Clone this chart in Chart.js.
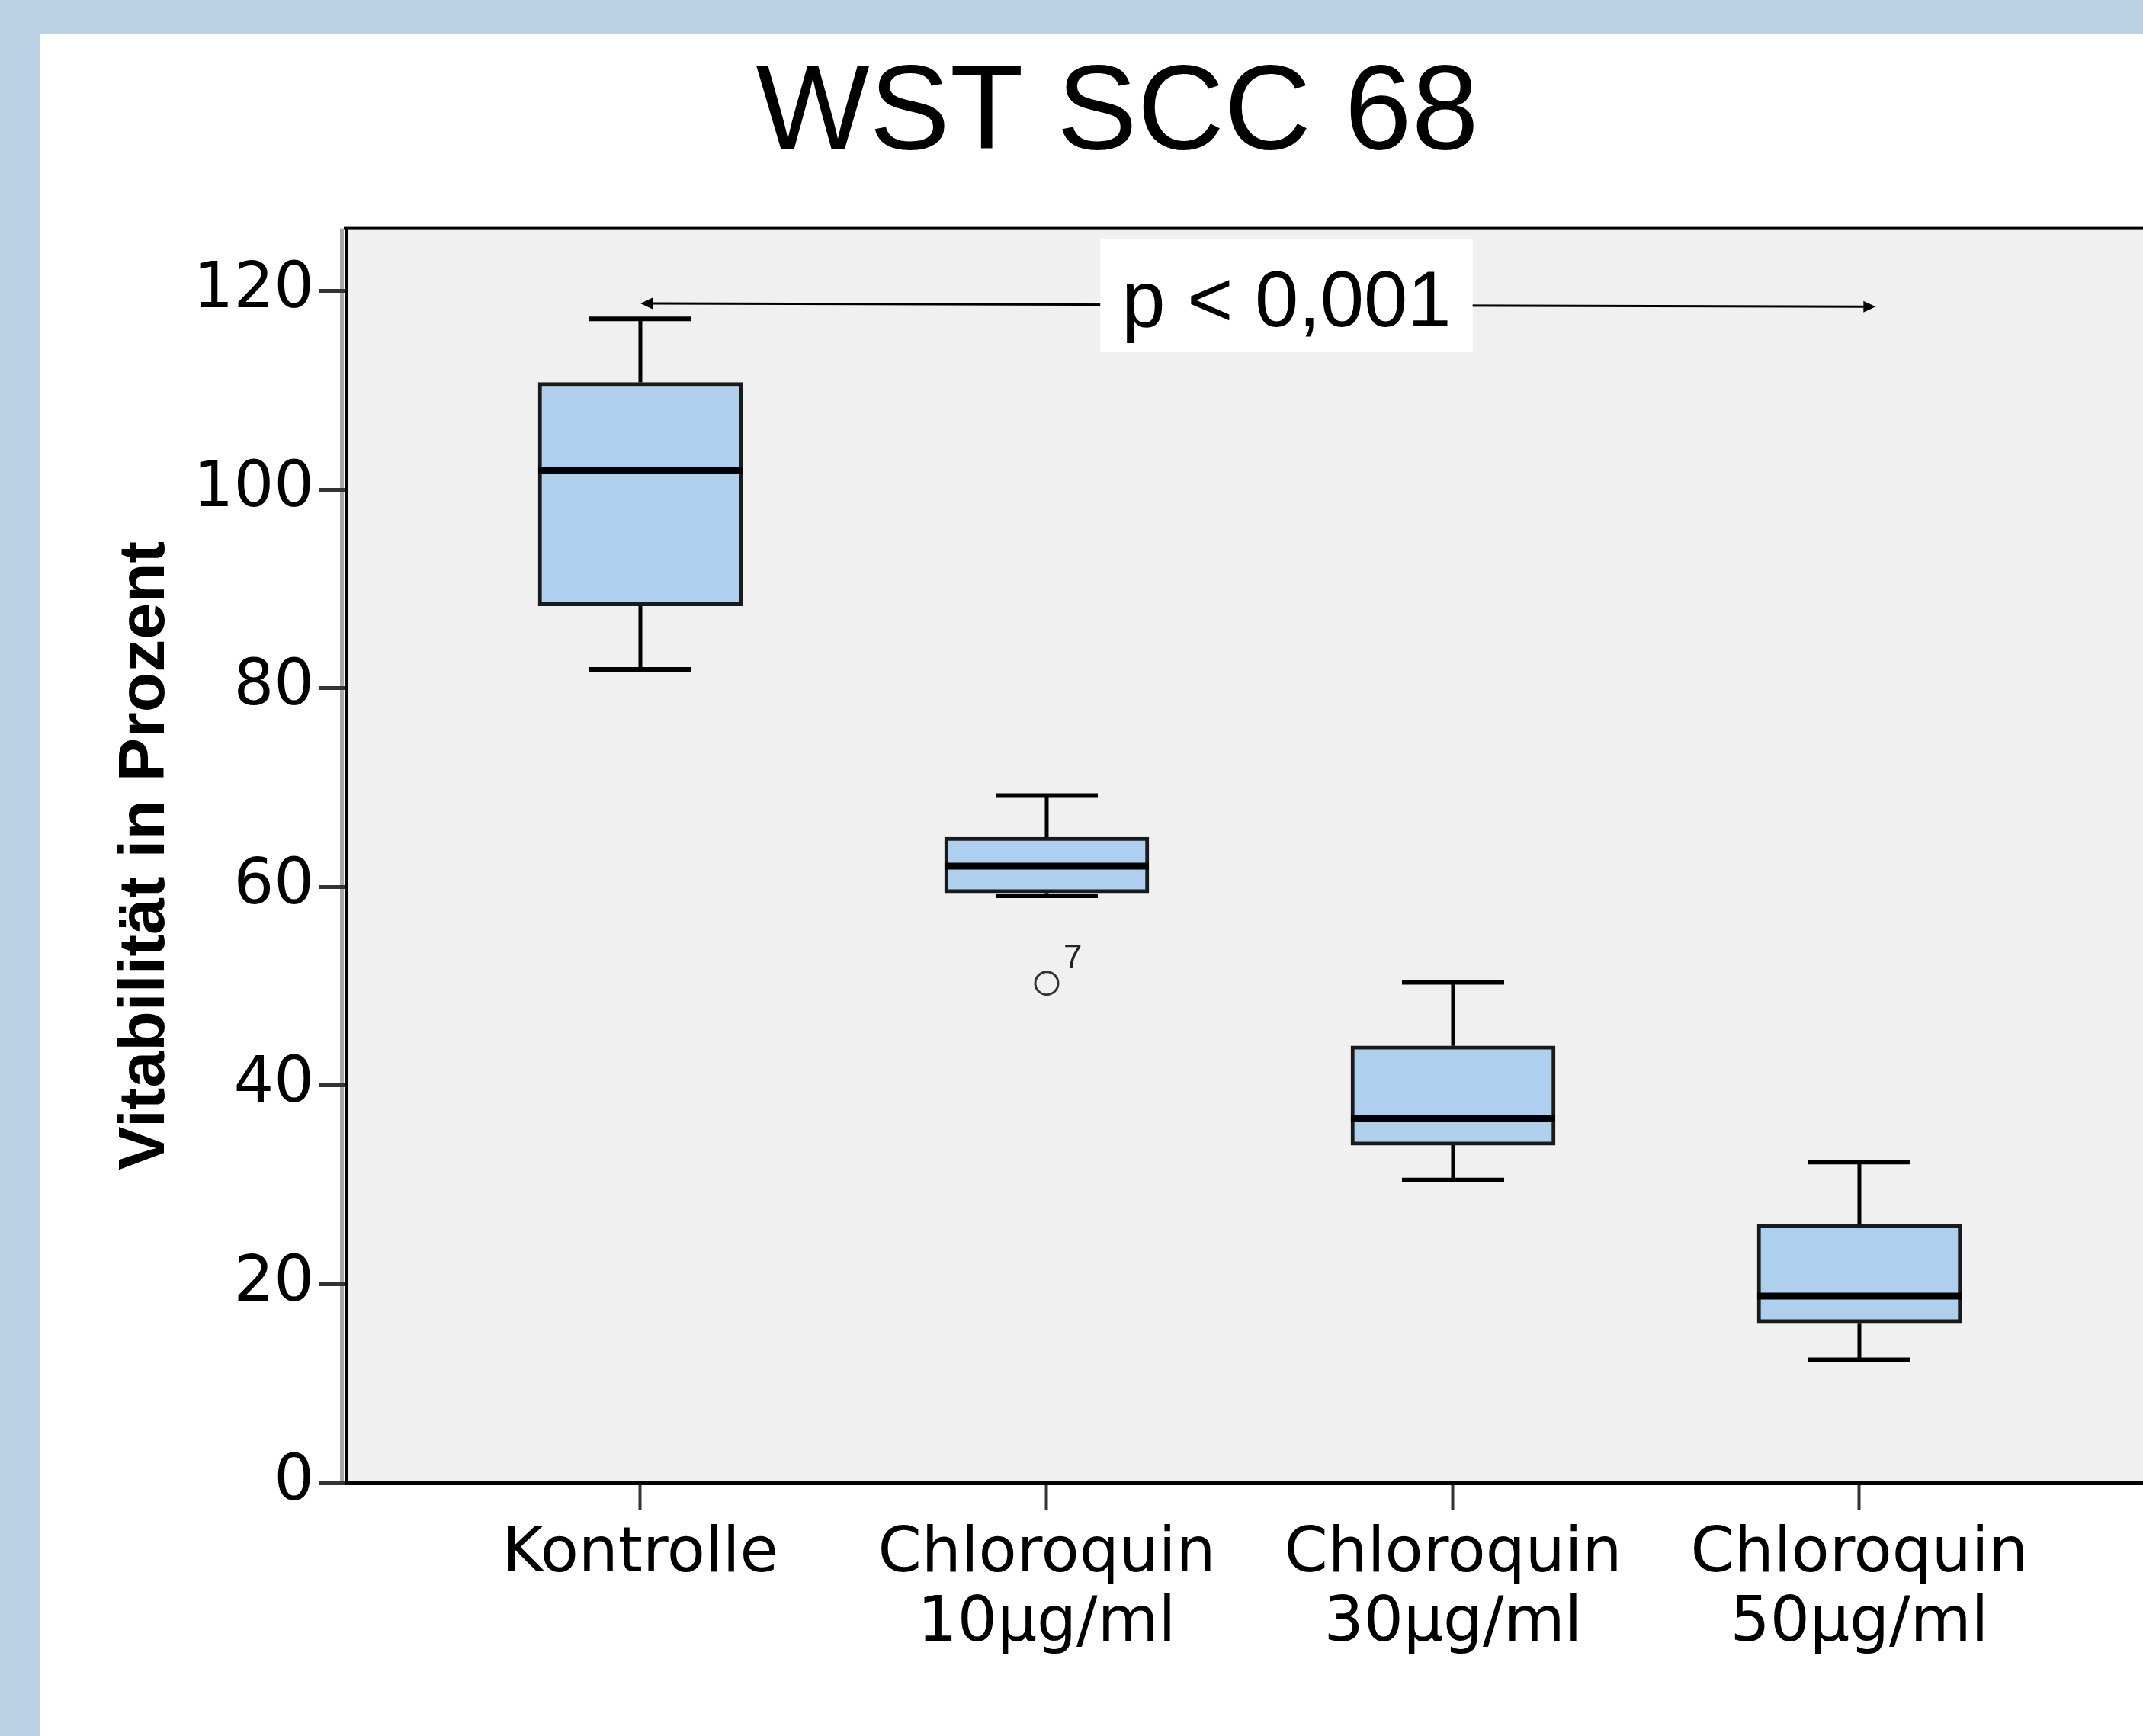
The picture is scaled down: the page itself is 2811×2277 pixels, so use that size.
<!DOCTYPE html>
<html>
<head>
<meta charset="utf-8">
<title>WST SCC 68</title>
<script src="https://cdn.jsdelivr.net/npm/chart.js@4.4.1/dist/chart.umd.min.js"></script>
<style>
    html, body { margin: 0; padding: 0; overflow: hidden; }
    body { width: 2811px; height: 2277px; background: #bbd1e5; position: relative; }
    #panel { position: absolute; left: 52px; top: 44px; right: 0; bottom: 0; background: #ffffff; }
    #myChart { position: absolute; left: 0; top: 0; }
</style>
</head>
<body>
<div id="panel"></div>
<canvas id="myChart" width="2811" height="2277"></canvas>
<script>
// groups on the x axis (positions 1..4)
const groupLabels = ['Kontrolle', ['Chloroquin', '10µg/ml'], ['Chloroquin', '30µg/ml'], ['Chloroquin', '50µg/ml']];
const groupPos = [1, 2, 3, 4];

// box plot statistics, Vitabilität in %
const whiskerLow = [81.9, 59.1, 30.5, 12.4];
const quartile1 = [88.3, 59.4, 34.0, 16.1];
const medians = [101.9, 62.1, 36.7, 18.8];
const quartile3 = [110.8, 65.0, 44.0, 26.0];
const whiskerHigh = [117.2, 69.2, 50.4, 32.3];

// outliers
const outlierPos = [2];
const outlierValues = [50.3];
const outlierLabels = ['7'];

const yTicks = [0, 20, 40, 60, 80, 100, 120];
const pText = 'p < 0,001';

let chart;

Chart.defaults.font.family = "'Liberation Sans', Arial, sans-serif";
Chart.defaults.color = '#000';

const BOX_WIDTH = 268;
const CAP_HALF = 67;

// grey plot area + top frame line
const plotBackground = {
    id: 'plotBackground',
    beforeDraw(c) {
        const {ctx, chartArea: a} = c;
        ctx.save();
        ctx.fillStyle = '#f0f0f0';
        ctx.fillRect(a.left, a.top, a.right - a.left, a.bottom - a.top);
        ctx.fillStyle = '#a8a8a8';
        ctx.fillRect(a.left - 9, a.top, 5, a.bottom - a.top);
        ctx.fillStyle = '#000';
        ctx.fillRect(a.left - 4, a.top - 2, a.right - a.left + 4, 4);
        ctx.restore();
    }
};

// whiskers, caps, medians and outlier labels
const boxWhiskers = {
    id: 'boxWhiskers',
    afterDatasetsDraw(c) {
        const {ctx, scales: {x, y}} = c;
        ctx.save();
        ctx.strokeStyle = '#000';
        groupPos.forEach((pos, i) => {
            const px = x.getPixelForValue(pos);

            ctx.lineWidth = 5;
            ctx.beginPath();
            ctx.moveTo(px, y.getPixelForValue(quartile3[i]));
            ctx.lineTo(px, y.getPixelForValue(whiskerHigh[i]));
            ctx.moveTo(px, y.getPixelForValue(quartile1[i]));
            ctx.lineTo(px, y.getPixelForValue(whiskerLow[i]));
            ctx.stroke();

            ctx.lineWidth = 6;
            ctx.beginPath();
            [whiskerHigh[i], whiskerLow[i]].forEach(v => {
                const py = y.getPixelForValue(v);
                ctx.moveTo(px - CAP_HALF, py);
                ctx.lineTo(px + CAP_HALF, py);
            });
            ctx.stroke();

            ctx.lineWidth = 9;
            ctx.beginPath();
            const my = y.getPixelForValue(medians[i]);
            ctx.moveTo(px - BOX_WIDTH / 2, my);
            ctx.lineTo(px + BOX_WIDTH / 2, my);
            ctx.stroke();
        });

        ctx.fillStyle = '#222';
        ctx.font = "44px 'Liberation Sans', Arial, sans-serif";
        ctx.textAlign = 'left';
        ctx.textBaseline = 'alphabetic';
        outlierPos.forEach((pos, i) => {
            ctx.fillText(outlierLabels[i], x.getPixelForValue(pos) + 22, y.getPixelForValue(outlierValues[i]) - 20);
        });
        ctx.restore();
    }
};

// significance arrow with label
const pAnnotation = {
    id: 'pAnnotation',
    afterDatasetsDraw(c) {
        const {ctx, scales: {x, y}} = c;
        const x1 = x.getPixelForValue(1.0), y1 = y.getPixelForValue(118.75);
        const x2 = x.getPixelForValue(4.04), y2 = y.getPixelForValue(118.43);
        ctx.save();
        ctx.strokeStyle = '#000';
        ctx.fillStyle = '#000';
        ctx.lineWidth = 3;
        ctx.beginPath();
        ctx.moveTo(x1 + 14, y1);
        ctx.lineTo(x2 - 14, y2);
        ctx.stroke();
        ctx.beginPath();
        ctx.moveTo(x1, y1);
        ctx.lineTo(x1 + 16, y1 - 7.5);
        ctx.lineTo(x1 + 16, y1 + 7.5);
        ctx.closePath();
        ctx.fill();
        ctx.beginPath();
        ctx.moveTo(x2, y2);
        ctx.lineTo(x2 - 16, y2 - 7.5);
        ctx.lineTo(x2 - 16, y2 + 7.5);
        ctx.closePath();
        ctx.fill();

        const cx = x.getPixelForValue(2.59);
        const cy = y.getPixelForValue(119.5);
        ctx.font = "103px 'Liberation Sans', Arial, sans-serif";
        const w = ctx.measureText(pText).width + 56;
        ctx.fillStyle = '#fff';
        ctx.fillRect(cx - w / 2, cy - 74, w, 148);
        ctx.fillStyle = '#000';
        ctx.textAlign = 'center';
        ctx.textBaseline = 'alphabetic';
        ctx.fillText(pText, cx, cy + 40);
        ctx.restore();
    }
};

const ctx = document.getElementById('myChart').getContext('2d');
chart = new Chart(ctx, {
    type: 'bar',
    data: {
        datasets: [
            {
                label: 'Vitabilität',
                data: groupPos.map((p, i) => ({x: p, y: [quartile1[i], quartile3[i]]})),
                backgroundColor: '#aecfed',
                borderColor: '#1a1a1a',
                borderWidth: 5,
                borderSkipped: false,
                barThickness: BOX_WIDTH
            },
            {
                type: 'scatter',
                label: 'Ausreißer',
                data: outlierPos.map((p, i) => ({x: p, y: outlierValues[i]})),
                pointStyle: 'circle',
                pointRadius: 15,
                pointBorderWidth: 3,
                pointBorderColor: '#333',
                pointBackgroundColor: 'rgba(0,0,0,0)'
            }
        ]
    },
    options: {
        responsive: false,
        animation: false,
        events: [],
        layout: {
            autoPadding: false,
            padding: {left: 120, right: 0, top: 0, bottom: 0}
        },
        plugins: {
            legend: {display: false},
            tooltip: {enabled: false},
            title: {
                display: true,
                text: 'WST SCC 68',
                color: '#000',
                font: {size: 158, weight: 'normal', lineHeight: 1.2},
                padding: {top: 57, bottom: 53}
            }
        },
        scales: {
            x: {
                type: 'linear',
                offset: false,
                min: 0.2777,
                max: 4.698,
                afterBuildTicks: s => { s.ticks = groupPos.map(v => ({value: v})); },
                afterFit: s => {
                    s.height = 332;
                    s.paddingLeft = 0;
                    s.paddingRight = 0;
                },
                ticks: {
                    callback: (v, i) => groupLabels[i],
                    font: {family: "'DejaVu Sans', sans-serif", size: 82, lineHeight: 1.1},
                    color: '#000',
                    padding: 14,
                    maxRotation: 0,
                    autoSkip: false
                },
                grid: {
                    offset: false,
                    drawOnChartArea: false,
                    drawTicks: true,
                    tickLength: 36,
                    tickColor: '#333',
                    tickWidth: 4
                },
                border: {display: true, color: '#000', width: 5}
            },
            y: {
                min: 0,
                max: 126.3,
                afterBuildTicks: s => { s.ticks = yTicks.map(v => ({value: v})); },
                afterFit: s => { s.width = 335; },
                ticks: {
                    font: {family: "'DejaVu Sans', sans-serif", size: 83},
                    color: '#000',
                    padding: 6
                },
                grid: {
                    drawOnChartArea: false,
                    drawTicks: true,
                    tickLength: 37,
                    tickColor: '#333',
                    tickWidth: 5
                },
                border: {display: true, color: '#000', width: 4},
                title: {
                    display: true,
                    text: 'Vitabilität in Prozent',
                    color: '#000',
                    font: {size: 86, weight: 'bold', lineHeight: 1.2},
                    padding: {top: 20, bottom: 0}
                }
            }
        }
    },
    plugins: [plotBackground, boxWhiskers, pAnnotation]
});
</script>
</body>
</html>
